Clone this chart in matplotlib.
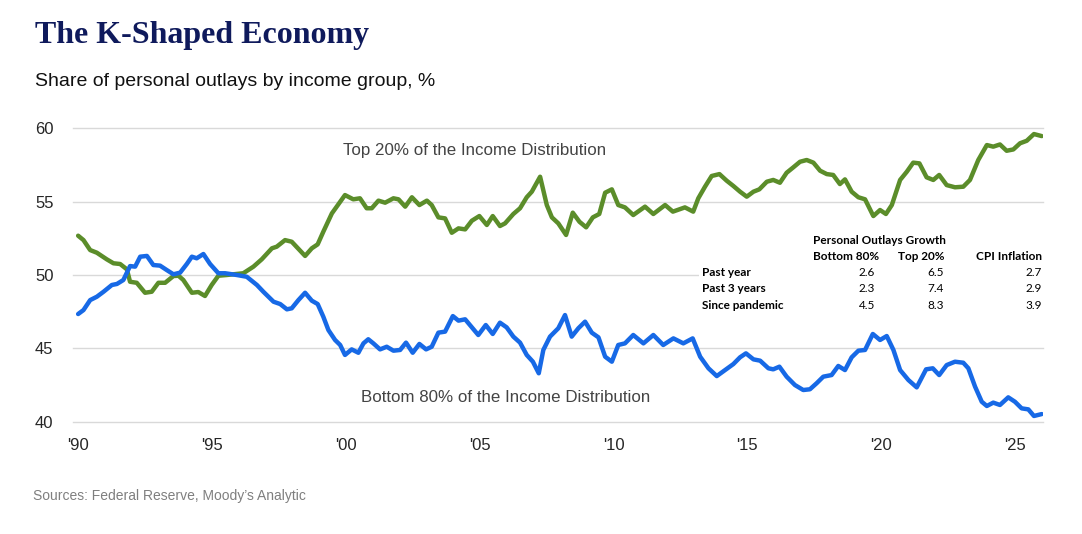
import matplotlib.pyplot as plt
from matplotlib.patches import Rectangle

# share of personal outlays (decimal years)
top_years = [1990.00, 1990.20, 1990.45, 1990.70, 1991.07, 1991.32, 1991.57, 1991.82, 1991.94, 1992.19,
             1992.50, 1992.75, 1993.00, 1993.25, 1993.56, 1993.75, 1993.93, 1994.25, 1994.49, 1994.74,
             1994.99, 1995.24, 1995.55, 1996.17, 1996.55, 1996.86, 1997.24, 1997.42, 1997.73, 1997.98,
             1998.48, 1998.73, 1998.95, 1999.16, 1999.48, 1999.66, 1999.97, 2000.28, 2000.53, 2000.78,
             2000.97, 2001.22, 2001.47, 2001.78, 2001.97, 2002.22, 2002.47, 2002.75, 2003.03, 2003.21,
             2003.46, 2003.71, 2003.96, 2004.21, 2004.46, 2004.71, 2004.99, 2005.27, 2005.49, 2005.76,
             2005.95, 2006.26, 2006.51, 2006.76, 2006.95, 2007.26, 2007.51, 2007.70, 2007.94, 2008.23,
             2008.48, 2008.73, 2008.98, 2009.23, 2009.47, 2009.69, 2009.94, 2010.18, 2010.43, 2010.74,
             2011.18, 2011.49, 2011.93, 2012.22, 2012.67, 2012.98, 2013.17, 2013.42, 2013.67, 2013.96,
             2014.23, 2014.48, 2014.73, 2014.98, 2015.23, 2015.45, 2015.73, 2015.97, 2016.22, 2016.47,
             2016.72, 2016.97, 2017.22, 2017.47, 2017.72, 2017.97, 2018.21, 2018.46, 2018.65, 2018.90,
             2019.15, 2019.40, 2019.71, 2019.96, 2020.18, 2020.40, 2020.71, 2020.96, 2021.20, 2021.43,
             2021.70, 2021.95, 2022.17, 2022.45, 2022.76, 2023.07, 2023.32, 2023.63, 2023.95, 2024.19,
             2024.44, 2024.69, 2024.94, 2025.19, 2025.44, 2025.71, 2026.00]
top20 = [52.68, 52.38, 51.70, 51.52, 51.07, 50.80, 50.75, 50.39, 49.54, 49.47,
         48.79, 48.86, 49.47, 49.47, 49.93, 49.95, 49.66, 48.79, 48.84, 48.57,
         49.32, 49.95, 50.00, 50.12, 50.57, 51.07, 51.82, 51.93, 52.38, 52.27,
         51.30, 51.82, 52.09, 52.95, 54.20, 54.66, 55.45, 55.16, 55.23, 54.55,
         54.55, 55.07, 54.93, 55.23, 55.16, 54.66, 55.30, 54.77, 55.07, 54.77,
         53.93, 53.86, 52.88, 53.18, 53.11, 53.70, 54.02, 53.41, 54.02, 53.34,
         53.52, 54.16, 54.55, 55.30, 55.68, 56.70, 54.77, 53.93, 53.52, 52.73,
         54.25, 53.63, 53.25, 53.93, 54.16, 55.61, 55.84, 54.77, 54.61, 54.09,
         54.66, 54.16, 54.77, 54.32, 54.61, 54.32, 55.23, 56.02, 56.75, 56.88,
         56.43, 56.07, 55.68, 55.34, 55.68, 55.84, 56.36, 56.48, 56.29, 56.97,
         57.34, 57.72, 57.84, 57.66, 57.11, 56.88, 56.82, 56.20, 56.52, 55.68,
         55.30, 55.16, 54.02, 54.43, 54.16, 54.77, 56.48, 57.04, 57.66, 57.61,
         56.66, 56.48, 56.82, 56.13, 55.98, 56.02, 56.48, 57.84, 58.86, 58.75,
         58.90, 58.47, 58.56, 58.98, 59.15, 59.61, 59.47]

bottom_years = [1990.00, 1990.20, 1990.45, 1990.70, 1990.95, 1991.26, 1991.45, 1991.69, 1991.94, 1992.13,
                1992.32, 1992.57, 1992.81, 1993.06, 1993.31, 1993.56, 1993.81, 1994.06, 1994.25, 1994.43,
                1994.68, 1994.93, 1995.24, 1995.49, 1995.93, 1996.30, 1996.68, 1996.92, 1997.30, 1997.55,
                1997.80, 1997.98, 1998.23, 1998.48, 1998.73, 1998.95, 1999.16, 1999.35, 1999.60, 1999.79,
                1999.97, 2000.22, 2000.47, 2000.66, 2000.84, 2001.03, 2001.28, 2001.53, 2001.78, 2002.03,
                2002.25, 2002.50, 2002.75, 2003.00, 2003.21, 2003.46, 2003.71, 2004.00, 2004.21, 2004.46,
                2004.71, 2004.95, 2005.23, 2005.49, 2005.76, 2006.01, 2006.26, 2006.51, 2006.76, 2006.99,
                2007.21, 2007.38, 2007.63, 2007.94, 2008.19, 2008.44, 2008.69, 2008.94, 2009.19, 2009.44,
                2009.69, 2009.94, 2010.18, 2010.43, 2010.74, 2011.12, 2011.49, 2011.86, 2012.24, 2012.61,
                2012.96, 2013.24, 2013.55, 2013.86, 2014.17, 2014.48, 2014.73, 2014.95, 2015.23, 2015.48,
                2015.79, 2015.97, 2016.20, 2016.47, 2016.78, 2017.09, 2017.34, 2017.59, 2017.84, 2018.15,
                2018.40, 2018.65, 2018.90, 2019.15, 2019.40, 2019.69, 2019.96, 2020.21, 2020.46, 2020.71,
                2021.02, 2021.33, 2021.68, 2021.93, 2022.17, 2022.45, 2022.76, 2023.07, 2023.26, 2023.51,
                2023.76, 2023.95, 2024.19, 2024.44, 2024.75, 2025.00, 2025.25, 2025.50, 2025.71, 2026.00]
bottom80 = [47.34, 47.61, 48.29, 48.52, 48.86, 49.32, 49.39, 49.66, 50.61, 50.57,
            51.25, 51.30, 50.68, 50.64, 50.34, 50.05, 50.16, 50.75, 51.25, 51.14,
            51.43, 50.75, 50.12, 50.12, 50.00, 49.88, 49.32, 48.86, 48.18, 48.02,
            47.66, 47.73, 48.29, 48.79, 48.25, 48.02, 47.16, 46.25, 45.57, 45.23,
            44.55, 44.93, 44.70, 45.34, 45.62, 45.34, 44.93, 45.11, 44.84, 44.89,
            45.39, 44.70, 45.30, 44.93, 45.11, 46.07, 46.14, 47.20, 46.89, 46.98,
            46.43, 45.91, 46.59, 45.98, 46.75, 46.43, 45.80, 45.39, 44.55, 44.09,
            43.30, 44.89, 45.80, 46.37, 47.27, 45.80, 46.37, 46.82, 46.07, 45.75,
            44.43, 44.09, 45.23, 45.34, 45.91, 45.34, 45.91, 45.23, 45.68, 45.34,
            45.68, 44.43, 43.64, 43.11, 43.52, 43.93, 44.39, 44.66, 44.25, 44.16,
            43.64, 43.57, 43.75, 43.07, 42.50, 42.16, 42.21, 42.62, 43.07, 43.18,
            43.80, 43.52, 44.39, 44.84, 44.89, 45.98, 45.57, 45.84, 44.89, 43.52,
            42.84, 42.34, 43.57, 43.64, 43.18, 43.86, 44.09, 44.02, 43.64, 42.39,
            41.36, 41.07, 41.30, 41.14, 41.66, 41.36, 40.91, 40.84, 40.39, 40.52]

tick_years = [1990, 1995, 2000, 2005, 2010, 2015, 2020, 2025]
tick_labels = ["'90", "'95", "'00", "'05", "'10", "'15", "'20", "'25"]

table_rows = ["Past year", "Past 3 years", "Since pandemic"]
growth_bottom = ["2.6", "2.3", "4.5"]
growth_top = ["6.5", "7.4", "8.3"]
cpi = ["2.7", "2.9", "3.9"]

plt.rcParams["font.family"] = ["Liberation Sans", "DejaVu Sans"]

fig = plt.figure(figsize=(10.82, 5.34), dpi=100)
ax = fig.add_axes([0.0675, 0.2103, 0.8965, 0.5494])

green = "#5b8d2a"
blue = "#1769e6"
ax.plot(top_years, top20, color=green, lw=3.2, solid_joinstyle="round", solid_capstyle="round", zorder=3)
ax.plot(bottom_years, bottom80, color=blue, lw=3.2, solid_joinstyle="round", solid_capstyle="round", zorder=3)

ax.set_xlim(1989.81, 2026.05)
ax.set_ylim(40, 60)
ax.set_yticks([40, 45, 50, 55, 60])
ax.set_xticks(tick_years)
ax.set_xticklabels(tick_labels)
ax.grid(axis="y", color="#d9d9d9", lw=1.0)
for g in ax.get_ygridlines():
    g.set_clip_on(False)
ax.set_axisbelow(True)
for s in ax.spines.values():
    s.set_visible(False)
ax.tick_params(length=0, labelsize=12, labelcolor="#262626")
ax.tick_params(axis="y", pad=14)
ax.tick_params(axis="x", pad=12)

ax.text(1999.9, 58.18, "Top 20% of the Income Distribution", fontsize=12.2, color="#444444")
ax.text(2000.56, 41.34, "Bottom 80% of the Income Distribution", fontsize=12.2, color="#444444")

# table of growth rates, white box hides the gridline behind it
ax.add_patch(Rectangle((0.645, 0.33), 0.36, 0.27, transform=ax.transAxes,
                       facecolor="white", edgecolor="none", zorder=2, clip_on=False))
tf = dict(fontsize=8.5, family=["Lato", "DejaVu Sans"], zorder=4, transform=fig.transFigure)
W, H = 1082, 534
fig.text(813 / W, 1 - 240 / H, "Personal Outlays Growth", weight="bold", va="center", **tf)
fig.text(813 / W, 1 - 256 / H, "Bottom 80%", weight="bold", va="center", **tf)
fig.text(945 / W, 1 - 256 / H, "Top 20%", weight="bold", va="center", ha="right", **tf)
fig.text(1042 / W, 1 - 256 / H, "CPI Inflation", weight="bold", va="center", ha="right", **tf)
for i, row in enumerate(table_rows):
    y = 1 - (272.5 + 16.5 * i) / H
    fig.text(702 / W, y, row, weight="bold", va="center", **tf)
    fig.text(875 / W, y, growth_bottom[i], va="center", ha="right", **tf)
    fig.text(944 / W, y, growth_top[i], va="center", ha="right", **tf)
    fig.text(1042 / W, y, cpi[i], va="center", ha="right", **tf)

fig.text(35 / W, 1 - 43 / H, "The K-Shaped Economy", family=["Liberation Serif", "DejaVu Serif"],
         weight="bold", fontsize=23, color="#0f1a5c")
fig.text(35 / W, 1 - 86 / H, "Share of personal outlays by income group, %", fontsize=14, color="#111111")
fig.text(33 / W, 1 - 500 / H, "Sources: Federal Reserve, Moody\u2019s Analytic", fontsize=10, color="#7f7f7f")

fig.savefig("out.png", dpi=100)
